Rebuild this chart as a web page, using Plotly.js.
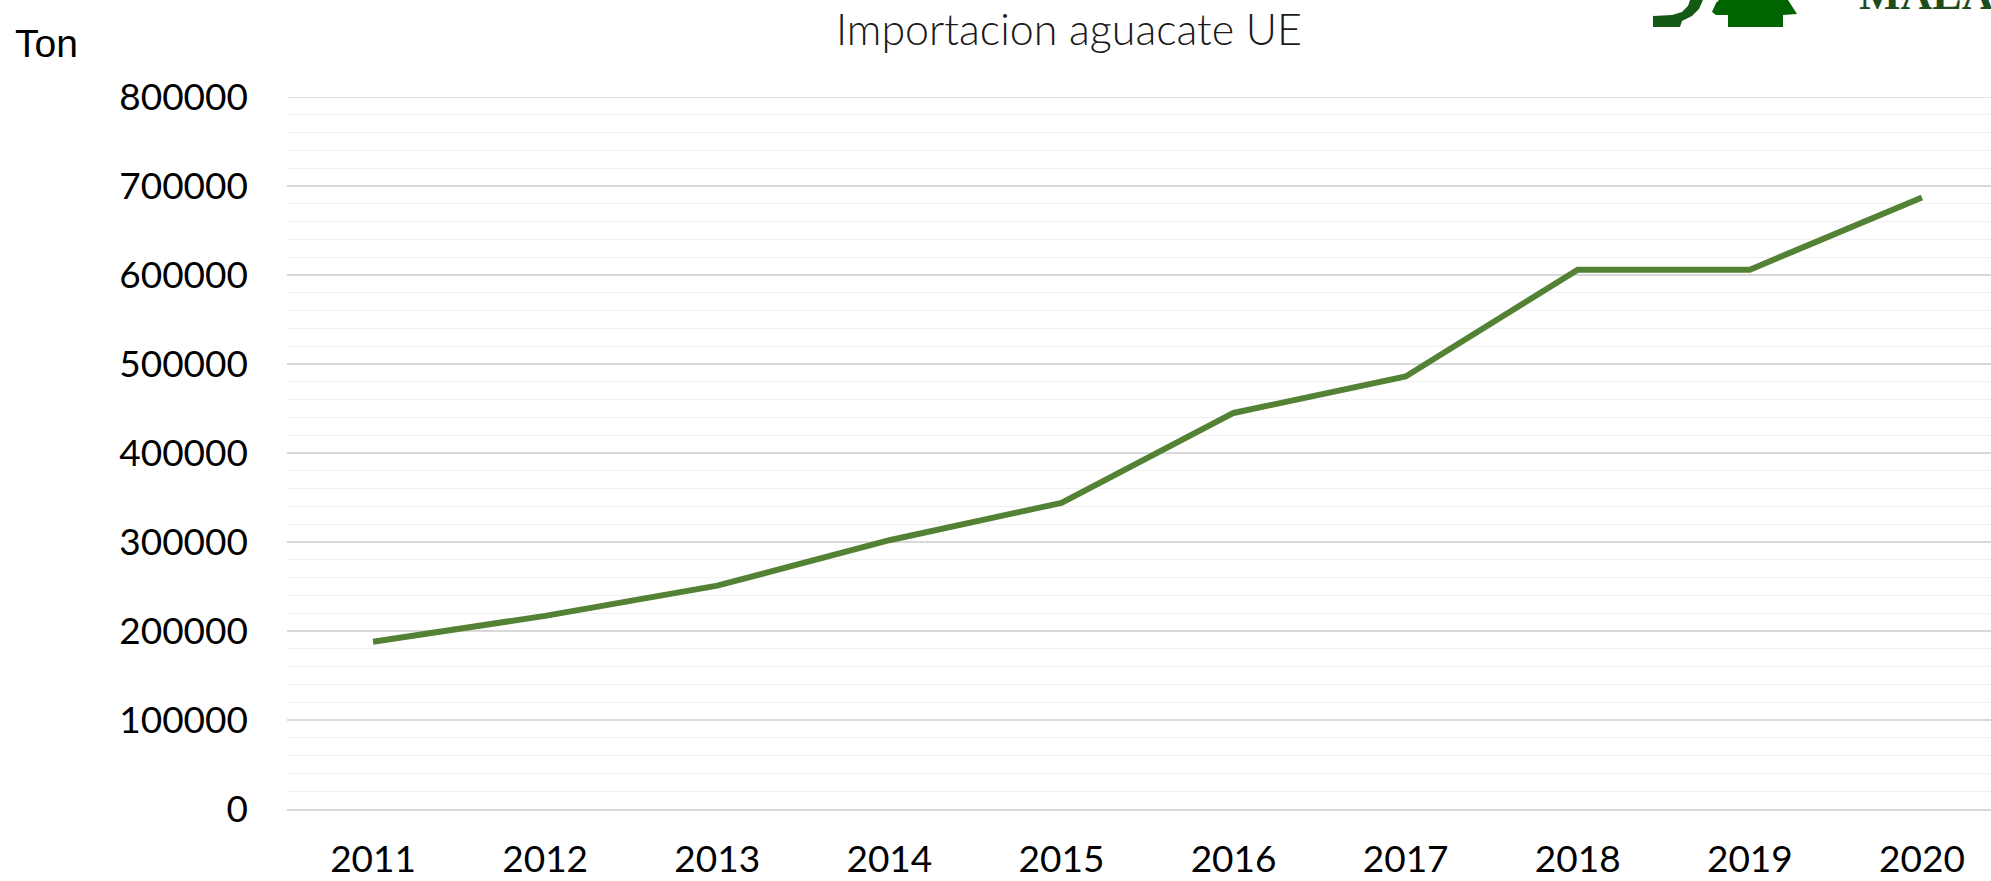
<!DOCTYPE html>
<html>
<head>
<meta charset="utf-8">
<script src="https://cdn.plot.ly/plotly-3.0.1.min.js"></script>
<style>html,body{margin:0;padding:0;background:#fff;}#chart{width:1991px;height:881px;}</style>
</head>
<body>
<div id="chart"></div>
<script>
// Data
const years = ["2011","2012","2013","2014","2015","2016","2017","2018","2019","2020"];
const importTon = [188000, 217000, 251000, 302000, 344000, 445000, 486000, 606000, 606000, 687000];
const yTickVals = [0,100000,200000,300000,400000,500000,600000,700000,800000];
const yTickText = ["0","100000","200000","300000","400000","500000","600000","700000","800000"];
const yMax = 800000;
const titleText = "Importacion aguacate UE";
const unitText = "Ton";
const logoText = "MALA";

// layout geometry (pixels)
const W = 1991, H = 881;
const L = 287, T = 97, B = 809;
const plotW = W - L, plotH = B - T;
const px = x => (x - L) / plotW;
const py = y => (B - y) / plotH;
function poly(pts){
  return pts.map((p,i)=>(i?'L':'M')+px(p[0]).toFixed(5)+','+py(p[1]).toFixed(5)).join(' ')+' Z';
}

const trace = {
  x: years, y: importTon, type: 'scatter', mode: 'lines',
  line: {color: '#548235', width: 6},
  hoverinfo: 'x+y'
};

const tickFont = {family: 'Lato, "Open Sans", sans-serif', size: 37, color: '#000'};

const layout = {
  width: W, height: H,
  margin: {l: L, r: 0, t: T, b: H - B, pad: 0},
  paper_bgcolor: '#fff', plot_bgcolor: '#fff',
  showlegend: false,
  title: {
    text: titleText,
    font: {family: 'Lato, "Open Sans", sans-serif', size: 43, color: '#1a1a1a', weight: 300},
    xref: 'container', yref: 'container',
    x: 1069 / W, xanchor: 'center',
    y: 1 - 30 / H, yanchor: 'middle'
  },
  xaxis: {
    type: 'category',
    range: [-0.5, -0.5 + plotW / 172.1],
    showgrid: false, zeroline: false,
    showline: true, linecolor: '#d9d9d9', linewidth: 1.5,
    ticks: '', tickfont: tickFont,
    ticklabelstandoff: 17,
    fixedrange: true
  },
  yaxis: {
    range: [0, yMax],
    tickvals: yTickVals, ticktext: yTickText,
    showgrid: true, gridcolor: '#d9d9d9', gridwidth: 1.3,
    zeroline: false, showline: false,
    ticks: '', tickfont: tickFont,
    ticklabelstandoff: 38,
    minor: {dtick: 20000, tick0: 0, showgrid: true, gridcolor: '#f0f0f0', gridwidth: 1},
    fixedrange: true
  },
  annotations: [
    {
      text: unitText, xref: 'paper', yref: 'paper',
      x: px(13), xanchor: 'left', y: py(43), yanchor: 'middle',
      showarrow: false,
      font: {family: '"Liberation Sans", Arial, sans-serif', size: 39, color: '#000'}
    },
    {
      text: '<b>' + logoText + '</b>', xref: 'paper', yref: 'paper',
      x: px(1857), xanchor: 'left', y: py(-6), yanchor: 'middle',
      showarrow: false,
      font: {family: '"Liberation Serif", "DejaVu Serif", serif', size: 44, color: '#1d4d1d'}
    }
  ],
  shapes: [
    {type: 'line', xref: 'paper', yref: 'y', x0: 0, x1: 1, y0: yMax, y1: yMax,
     layer: 'below', line: {color: '#d9d9d9', width: 1.3}},
    {type: 'path', xref: 'paper', yref: 'paper', layer: 'above',
     path: poly([[1653,16],[1672,15],[1682,12],[1688,6],[1690,0],[1703,0],[1699,9],[1692,16],[1682,21],[1680,27],[1653,27]]),
     fillcolor: '#145a14', line: {width: 0}},
    {type: 'path', xref: 'paper', yref: 'paper', layer: 'above',
     path: poly([[1712,12],[1716,3],[1719,0],[1788,0],[1797,14],[1783,15],[1783,27],[1728,27],[1728,15],[1716,15]]),
     fillcolor: '#006400', line: {width: 0}}
  ]
};

Plotly.newPlot('chart', [trace], layout, {displayModeBar: false, staticPlot: true});
</script>
</body>
</html>
